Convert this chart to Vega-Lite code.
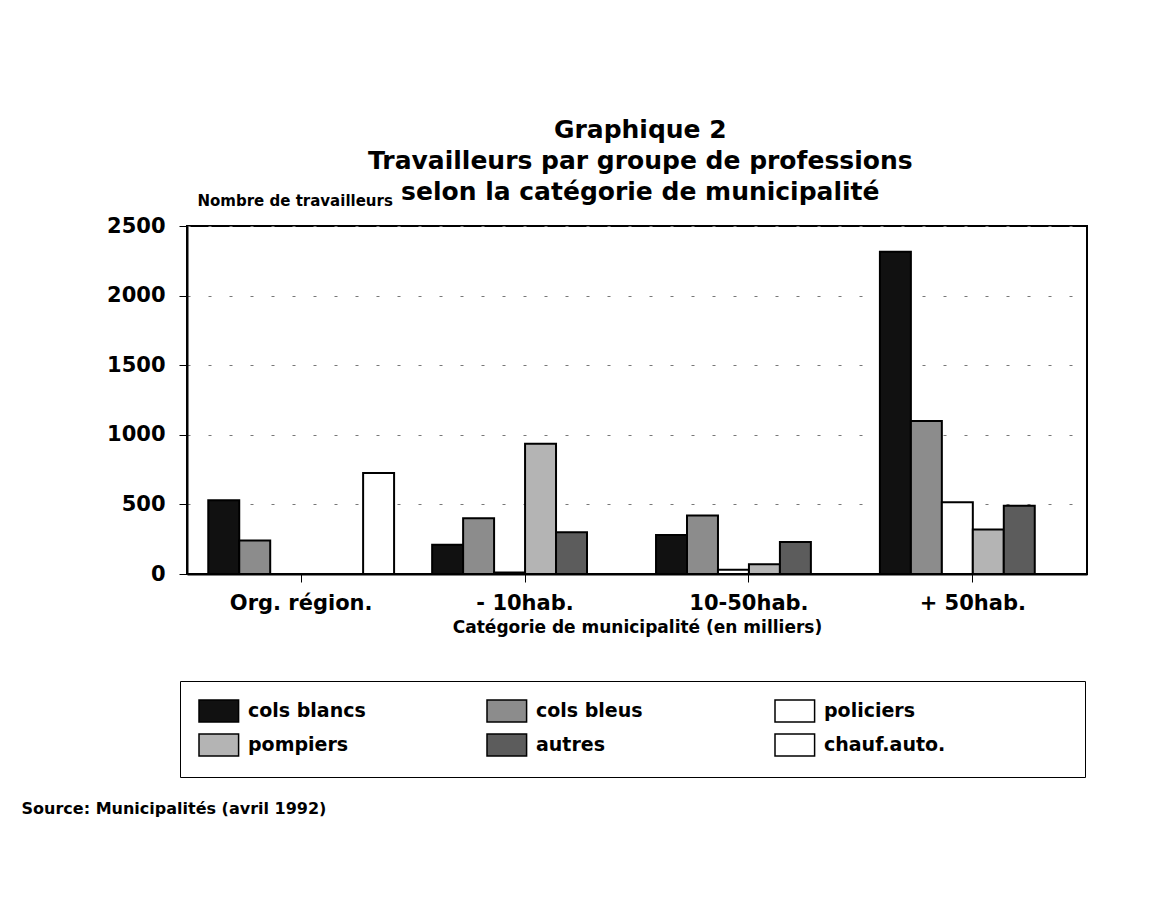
{
  "$schema": "https://vega.github.io/schema/vega-lite/v6.json",
  "background": "white",
  "padding": {"left": 20, "top": 118, "right": 10, "bottom": 10},
  "title": {
    "text": ["Graphique 2", "Travailleurs par groupe de professions", "selon la catégorie de municipalité"],
    "font": "DejaVu Sans",
    "fontSize": 25,
    "fontWeight": "bold",
    "lineHeight": 31,
    "anchor": "middle",
    "dx": 86,
    "offset": -13,
    "color": "black"
  },
  "vconcat": [
    {
      "width": 900,
      "height": 348,
      "title": {
        "text": "Source:  Municipalités (avril 1992)",
        "orient": "bottom",
        "anchor": "start",
        "font": "DejaVu Sans",
        "fontSize": 16,
        "fontWeight": "bold",
        "dx": -85,
        "offset": 166,
        "color": "black"
      },
      "data": {
        "values": [
          {"cat": "Org. région.", "groupe": "cols blancs", "n": 530},
          {"cat": "Org. région.", "groupe": "cols bleus", "n": 240},
          {"cat": "Org. région.", "groupe": "policiers", "n": 0},
          {"cat": "Org. région.", "groupe": "pompiers", "n": 0},
          {"cat": "Org. région.", "groupe": "autres", "n": 0},
          {"cat": "Org. région.", "groupe": "chauf.auto.", "n": 725},
          {"cat": "- 10hab.", "groupe": "cols blancs", "n": 210},
          {"cat": "- 10hab.", "groupe": "cols bleus", "n": 400},
          {"cat": "- 10hab.", "groupe": "policiers", "n": 10},
          {"cat": "- 10hab.", "groupe": "pompiers", "n": 935},
          {"cat": "- 10hab.", "groupe": "autres", "n": 300},
          {"cat": "- 10hab.", "groupe": "chauf.auto.", "n": 0},
          {"cat": "10-50hab.", "groupe": "cols blancs", "n": 280},
          {"cat": "10-50hab.", "groupe": "cols bleus", "n": 420},
          {"cat": "10-50hab.", "groupe": "policiers", "n": 30},
          {"cat": "10-50hab.", "groupe": "pompiers", "n": 70},
          {"cat": "10-50hab.", "groupe": "autres", "n": 230},
          {"cat": "10-50hab.", "groupe": "chauf.auto.", "n": 0},
          {"cat": "+ 50hab.", "groupe": "cols blancs", "n": 2315},
          {"cat": "+ 50hab.", "groupe": "cols bleus", "n": 1100},
          {"cat": "+ 50hab.", "groupe": "policiers", "n": 515},
          {"cat": "+ 50hab.", "groupe": "pompiers", "n": 320},
          {"cat": "+ 50hab.", "groupe": "autres", "n": 490},
          {"cat": "+ 50hab.", "groupe": "chauf.auto.", "n": 0}
        ]
      },
      "mark": {"type": "bar", "stroke": "black", "strokeWidth": 2},
      "encoding": {
        "x": {
          "field": "cat",
          "type": "nominal",
          "sort": ["Org. région.", "- 10hab.", "10-50hab.", "+ 50hab."],
          "scale": {"paddingInner": 0.17, "paddingOuter": 0.095},
          "axis": {
            "title": "Catégorie de municipalité (en milliers)",
            "titleFont": "DejaVu Sans",
            "titleFontSize": 17,
            "titleFontWeight": "bold",
            "titlePadding": 6,
            "labelAngle": 0,
            "labelFont": "DejaVu Sans",
            "labelFontSize": 21,
            "labelFontWeight": "bold",
            "labelColor": "black",
            "titleColor": "black",
            "labelPadding": 10,
            "tickSize": 8,
            "tickColor": "black",
            "domainColor": "black",
            "domainWidth": 2
          }
        },
        "xOffset": {
          "field": "groupe",
          "type": "nominal",
          "sort": ["cols blancs", "cols bleus", "policiers", "pompiers", "autres", "chauf.auto."],
          "scale": {"paddingInner": 0, "paddingOuter": 0}
        },
        "y": {
          "field": "n",
          "type": "quantitative",
          "scale": {"domain": [0, 2500], "nice": false},
          "axis": {
            "title": "Nombre de travailleurs",
            "titleAngle": 0,
            "titleAlign": "left",
            "titleBaseline": "middle",
            "titleX": 10,
            "titleY": -26,
            "titleFont": "DejaVu Sans",
            "titleFontSize": 15,
            "titleFontWeight": "bold",
            "titleColor": "black",
            "values": [0, 500, 1000, 1500, 2000, 2500],
            "format": "d",
            "labelFont": "DejaVu Sans",
            "labelFontSize": 21,
            "labelFontWeight": "bold",
            "labelColor": "black",
            "labelPadding": 14,
            "tickSize": 8,
            "tickColor": "black",
            "domainColor": "black",
            "domainWidth": 2,
            "grid": true,
            "gridColor": "#777",
            "gridDash": [3, 18],
            "gridWidth": 1
          }
        },
        "color": {
          "field": "groupe",
          "type": "nominal",
          "sort": ["cols blancs", "cols bleus", "policiers", "pompiers", "autres", "chauf.auto."],
          "scale": {
            "domain": ["cols blancs", "cols bleus", "policiers", "pompiers", "autres", "chauf.auto."],
            "range": ["#111111", "#8c8c8c", "#ffffff", "#b4b4b4", "#5c5c5c", "#ffffff"]
          },
          "legend": {
            "title": " ",
            "titleOrient": "right",
            "titlePadding": 122,
            "orient": "none",
            "legendX": -7,
            "legendY": 455,
            "direction": "horizontal",
            "columns": 3,
            "gridAlign": "all",
            "columnPadding": 114,
            "rowPadding": 6,
            "padding": 18,
            "strokeColor": "black",
            "fillColor": "white",
            "symbolType": "M-1,-1L2.6,-1L2.6,1L-1,1Z",
            "symbolSize": 484,
            "symbolStrokeColor": "black",
            "symbolStrokeWidth": 1.5,
            "symbolOpacity": 1,
            "labelFont": "DejaVu Sans",
            "labelFontSize": 19,
            "labelFontWeight": "bold",
            "labelColor": "black",
            "labelOffset": 26
          }
        }
      }
    }
  ],
  "config": {
    "view": {"stroke": "black", "strokeWidth": 2},
    "concat": {"spacing": 0}
  }
}
